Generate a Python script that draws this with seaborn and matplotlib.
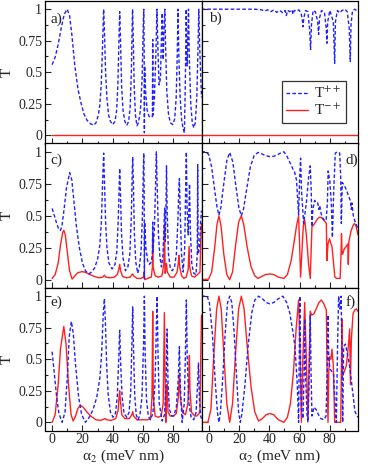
import numpy as np
import matplotlib
matplotlib.use('Agg')
import matplotlib.pyplot as plt
from matplotlib.ticker import MultipleLocator
import seaborn as sns

# T++ (blue dashed) and T-+ (red solid) vs alpha_2
a_pp = [(0, .56), (2, .62), (4, .72), (6, .85), (8, .96), (9.9, 1.0), (11.5, .95), (13, .8), (15, .55),
        (17, .37), (19, .26), (21, .17), (23, .12), (25.5, .09), (27.5, .08), (29, .1), (30.5, .16),
        (31.5, .24), (32.5, .42), (33.3, .72), (34, 1.0), (34.6, .8), (35.3, .5), (36.2, .29), (37.3, .16),
        (38.5, .11), (40, .085), (41.5, .11), (42.6, .2), (43.4, .4), (44, .7), (44.6, .98), (45.2, .72),
        (45.9, .38), (46.8, .2), (48, .11), (49.3, .08), (50.5, .11), (51.5, .22), (52.3, .5), (52.8, .85),
        (53.1, 1.0), (53.5, .8), (54.2, .38), (55, .16), (56, .075), (57, .1), (58.3, .2), (59.4, .45),
        (60.1, .85), (60.5, 1.0), (60.75, .7), (60.9, .02), (61.1, .55), (61.7, .35), (62.7, .2), (64, .15),
        (65.5, .14), (66.2, .15), (66.4, .76), (66.6, .16), (67.5, .3), (68.5, .65), (69.2, 1.0), (69.8, .7),
        (70.6, .4), (71.5, .45), (72.3, .85), (72.7, .97), (73.3, .6), (73.9, .85), (74.4, 1.0), (74.9, .7),
        (75.7, .35), (76.8, .17), (78, .1), (79.6, .085), (80.9, .13), (81.9, .3), (82.6, .65), (83.1, 1.0),
        (83.6, .65), (84.5, .3), (85.5, .12), (86.5, .05), (87.3, .02), (87.9, .4), (88.5, 1.0), (89.1, .55),
        (89.5, .7), (90, 1.0), (90.6, .6), (91.5, .25), (92.5, .1), (93.5, .06), (94.5, .1), (95.5, .3),
        (96.3, .7), (96.8, 1.0), (97.4, .7), (98.6, .3)]
a_mp = [(0, 0), (50, 0), (98.6, 0)]

b_pp = [(-4.7, 1.0), (10, 1.0), (30, 1.0), (35, .995), (37, .985), (39, .995), (41, .98), (43, .995),
        (45, .975), (47, .99), (49, .97), (50.5, .99), (51.3, .95), (52.2, .99), (53.5, .98), (55, .995),
        (55.7, .96), (56.5, .99), (58, .985), (59.5, .995), (61, .97), (61.8, .92), (62.3, .86), (62.8, .93),
        (64, .99), (65.5, .98), (66.6, .85), (67.3, .68), (67.9, .88), (69, .99), (70.5, .98), (72, .9),
        (72.6, .8), (73.2, .93), (74.5, .99), (76.5, .97), (77.6, .85), (78.1, .73), (78.6, .9), (80, .99),
        (82.3, .9), (83.2, .57), (83.7, .9), (85, .99), (86.5, .97), (88, .99), (90, 1.0), (91.5, .98),
        (92.8, .85), (93.5, .585), (94, .88), (95, .99), (96.5, 1.0), (98.6, .98)]
b_mp = [(-4.7, 0), (50, 0), (98.6, 0)]

c_pp = [(0, .557), (1.5, .5), (3, .44), (4.5, .39), (5.5, .386), (6.5, .42), (8, .56), (9.5, .72),
        (11.6, .837), (13, .78), (14.5, .6), (16, .42), (18, .25), (20, .13), (22, .07), (24.2, .045),
        (26, .06), (28, .09), (30, .16), (31.5, .27), (32.5, .45), (33.3, .75), (34, .99), (34.6, .75),
        (35.3, .45), (36.2, .25), (37.5, .13), (39.6, .084), (41.5, .12), (42.7, .22), (43.6, .45),
        (44.2, .7), (44.6, .87), (45.1, .68), (45.8, .36), (46.8, .17), (48.4, .07), (50, .1), (51.3, .2),
        (52.3, .5), (52.9, .85), (53.2, .96), (53.6, .78), (54.3, .36), (55.2, .14), (56.5, .05), (57.6, .1),
        (58.7, .22), (59.6, .5), (60.2, .85), (60.5, .99), (60.75, .7), (60.9, .01), (61.1, .45), (61.9, .25),
        (63, .15), (64.3, .12), (65.5, .14), (66.2, .2), (66.4, .45), (66.6, .22), (67.5, .4), (68.3, .75),
        (68.8, 1.0), (69.3, .75), (70.2, .35), (71.2, .17), (72.2, .1), (73.2, .2), (73.9, .45), (74.3, .56),
        (74.7, .3), (75.2, .6), (75.5, .89), (75.9, .55), (76.8, .2), (78, .09), (79.3, .07), (80.8, .1),
        (82, .2), (83, .45), (83.6, .7), (84, .79), (84.5, .55), (85.4, .2), (86.5, .06), (87.5, .25),
        (88.2, .75), (88.6, 1.0), (89, .6), (89.8, .35), (90.4, .6), (90.7, .75), (91.2, .4), (92.2, .12),
        (93.5, .05), (95, .04), (95.8, .2), (96.1, .9), (96.4, .2), (97.3, .25), (98, .45), (98.6, .54)]
c_mp = [(0, .01), (2, .04), (4, .13), (5.5, .27), (7, .37), (7.7, .386), (8.7, .35), (10, .22), (11.5, .07),
        (13.2, .005), (15, .03), (17, .055), (19.8, .063), (22, .058), (25, .04), (28, .025), (31, .015),
        (33.5, .02), (34.5, .035), (35.5, .02), (38, .015), (41, .02), (43, .04), (44, .08), (44.6, .12),
        (45.2, .07), (46.5, .025), (49, .015), (51.5, .02), (52.7, .04), (53.2, .045), (53.8, .03), (56, .01),
        (58.5, .01), (60.3, .02), (60.7, .06), (61.1, 0), (63, .01), (65.5, .02), (66.2, .1), (66.4, .36),
        (66.6, .1), (68, .03), (70, .02), (72.5, .03), (73.7, .12), (74.2, .43), (74.6, .05), (75.2, .1),
        (75.5, .126), (76, .06), (78, .02), (80.5, .02), (82.5, .06), (83.3, .13), (83.7, .19), (84.2, .1),
        (85.5, .03), (87, .01), (88.5, .02), (89.8, .08), (90.4, .26), (90.8, .1), (92, .03), (94, .02),
        (96, .04), (97.6, .06), (98.1, .3), (98.6, .44)]

d_pp = [(-4.7, 1.0), (-2, 1.0), (0, .98), (2, .88), (4, .7), (5.5, .57), (6.8, .504), (8, .56), (10, .75),
        (12, .93), (13.9, .995), (16, .92), (18, .73), (20, .56), (21.6, .5), (23, .55), (25, .7), (27.5, .88),
        (30, .97), (32.6, .995), (35, .985), (37.5, .97), (40.3, .963), (43, .965), (46, .98), (48, .995),
        (49.7, 1.0), (51.5, .97), (53.5, .92), (55.5, .87), (56.8, .84), (58, .78), (59.4, .506), (60.1, .8),
        (60.7, .95), (61.3, .7), (62.7, .44), (64.5, .6), (66, .8), (67.1, .89), (67.7, .7), (68.2, .415),
        (68.8, .55), (70, .62), (71, .6), (72, .6), (72.8, .55), (73.3, .58), (74.4, .51), (75.5, .48),
        (76.6, .46), (77.6, .47), (78.4, .6), (78.9, .85), (80, .77), (81, .6), (81.7, .33), (82.6, .7),
        (83.6, .99), (85, 1.0), (86.5, .99), (87.2, .8), (87.6, .44), (88.2, .76), (89.5, .74), (91, .7),
        (92.5, .65), (93.5, .62), (94.2, .55), (94.6, .6), (95.5, .5), (96.5, .46), (97.5, .43), (98.6, .4)]
d_mp = [(-4.7, 0), (0, .005), (2, .06), (4, .25), (5.5, .43), (6.8, .5), (8.2, .42), (10, .2), (12, .04),
        (13.9, 0), (15.8, .06), (17.8, .27), (19.8, .45), (21.6, .5), (23.2, .43), (25.5, .25), (28, .1),
        (30.5, .03), (32.6, .01), (35, .025), (37.5, .04), (40.3, .045), (43, .04), (46, .02), (49.7, .01),
        (52, .04), (54.5, .15), (56.5, .3), (58, .42), (59.4, .5), (60, .3), (60.7, .02), (61.5, .2),
        (62.5, .42), (63.4, .47), (64.5, .35), (66, .12), (67.1, .01), (67.6, .2), (68.2, .415), (69.5, .43),
        (71, .46), (72.3, .48), (73.5, .49), (75, .48), (76.5, .46), (77.7, .44), (78.1, .15), (78.8, .28),
        (79.8, .32), (80.8, .28), (81.4, .26), (82.3, .15), (83.3, .02), (84.5, .01), (86.8, .01), (87.4, .2),
        (87.7, .36), (88.1, .2), (88.5, .2), (89.5, .24), (90.8, .26), (91.9, .28), (92.2, .12), (92.6, .3),
        (94, .38), (95.2, .42), (96.2, .44), (97.3, .42), (98.6, .35)]

e_pp = [(0, .56), (1.5, .38), (3, .2), (4.5, .07), (6.6, 0), (8.5, .08), (10, .35), (11.3, .68), (12.7, .8),
        (14, .7), (15.5, .45), (17.5, .2), (19.5, .06), (22, 0), (24.5, .04), (27, .1), (29.5, .2), (31.5, .35),
        (32.7, .55), (33.7, .85), (34.5, .98), (35.2, .78), (36, .45), (37, .22), (38.5, .08), (40.2, .04),
        (41.8, .07), (43, .2), (43.9, .48), (44.6, .73), (45.3, .45), (46.2, .2), (47.5, .07), (49.3, .04),
        (50.8, .08), (51.9, .25), (52.7, .65), (53.2, .915), (53.7, .6), (54.5, .22), (55.5, .06), (56.7, .02),
        (58, .06), (59.3, .2), (60.3, .6), (60.9, 1.0), (61.4, .55), (62.3, .18), (63.5, .05), (64.9, .02),
        (66.5, .07), (67.9, .3), (68.8, .75), (69.3, 1.0), (69.8, .6), (70.7, .15), (72.6, .01), (74.2, .06),
        (75.2, .3), (75.9, .74), (76.5, .3), (77.5, .1), (79, .05), (80.3, .05), (82, .12), (83.3, .35),
        (84, .6), (84.6, .3), (85.8, 0), (87.2, .15), (88, .55), (88.6, .97), (89.2, .5), (90.3, .15),
        (91.8, .04), (93.5, .02), (95, .08), (96, .3), (96.6, .47), (97.2, .2), (98, .05), (98.6, .03)]
e_mp = [(0, 0), (2, .06), (4, .3), (5.5, .58), (7.7, .76), (9.2, .62), (10.8, .3), (12.5, .06), (13.9, .01),
        (15.5, .05), (17, .11), (18.7, .135), (20.5, .12), (23, .08), (26, .045), (29, .02), (32, .015),
        (34, .025), (34.9, .03), (36, .02), (39, .015), (42, .03), (43.6, .1), (44.3, .22), (44.6, .25),
        (45, .18), (46, .06), (48, .03), (51, .03), (52.6, .06), (53.2, .085), (53.8, .05), (56, .02), (59, .02),
        (61, .02), (63, .02), (65, .03), (65.9, .2), (66.4, .88), (66.8, .2), (68, .05), (70, .04), (72, .05),
        (73.3, .15), (74.1, .87), (74.6, .3), (75.1, 0), (75.6, .25), (75.9, .3), (76.5, .08), (78, .05),
        (80, .05), (82, .07), (83.3, .2), (84, .39), (84.6, .2), (86, .08), (88, .06), (89.6, .15), (90.3, .35),
        (90.6, .53), (91, .25), (92, .08), (94, .05), (95.5, .05), (97, .07), (97.6, .1), (98.2, .6), (98.6, .85)]

f_pp = [(-4.7, 1.0), (-1, 1.0), (.5, .95), (2.5, .7), (4.5, .3), (5.8, .08), (6.8, 0), (7.8, .08), (9.3, .35),
        (11, .72), (12.5, .95), (13.9, 1.0), (15.3, .95), (16.8, .72), (18.5, .35), (19.8, .08), (20.9, 0),
        (22, .07), (24, .3), (26, .6), (28.5, .87), (30.5, .97), (33, 1.0), (35.5, .98), (38, .95), (40.3, .94),
        (43, .95), (46, .98), (49, 1.0), (51.5, .95), (53.5, .87), (55.6, .72), (57, .6), (58.5, .3), (59.4, 0),
        (59.8, .5), (60.2, 1.0), (60.7, .5), (61.3, .1), (62.3, .03), (63, .4), (63.4, .82), (63.9, .4),
        (65, .05), (65.6, 0), (66.4, .4), (67.1, .85), (67.6, .4), (68.2, .05), (69.5, .12), (71, .1),
        (72.5, .06), (74, .03), (76, .02), (77.5, .05), (78.3, .4), (78.8, .85), (79.3, .5), (80.2, .42),
        (81.5, .4), (82.5, .38), (83.5, .15), (84.3, 0), (85.1, .6), (85.8, 1.0), (86.7, .9), (87.5, 1.0),
        (88.2, .3), (88.5, 0), (89.1, .6), (90.3, .62), (91.5, .55), (93, .45), (94.5, .3), (95.5, .2),
        (96.5, .09), (97.5, .06), (98.6, .04)]
f_mp = [(-4.7, 0), (-.5, 0), (1.5, .1), (3.5, .55), (5.3, .9), (6.8, 1.0), (8.3, .9), (10, .55), (12, .15),
        (13.9, 0), (15.8, .15), (17.8, .55), (19.8, .9), (21.6, 1.0), (23.4, .9), (25.5, .6), (28, .28),
        (30.5, .08), (33, .01), (35.5, .03), (38, .06), (40.3, .07), (43, .06), (46, .02), (49.7, 0), (52, .04),
        (54, .15), (56, .4), (57.8, .75), (59.4, .97), (60.3, .6), (61.2, 0), (62.2, .5), (63.4, .95), (64.5, .5),
        (65.6, .02), (66.4, .5), (67.1, .88), (68, .85), (69.5, .86), (71, .9), (72.8, .95), (74.4, .97),
        (76, .94), (77.7, .89), (78.2, .4), (78.8, 0), (79.3, .4), (79.9, .52), (80.7, .5), (81.4, .58),
        (82.3, .45), (83.2, 0), (85, 0), (87.2, 0), (87.7, .5), (88, .82), (88.4, .37), (89.5, .4), (90.9, .45),
        (92.2, .6), (93.1, .74), (93.6, .3), (94.2, .65), (95.3, .86), (96.4, .89), (97.5, .9), (98.6, .88)]

panel_labels = ['a)', 'b)', 'c)', 'd)', 'e)', 'f)']
xticks = [0, 20, 40, 60, 80]
yticks = [0, 0.25, 0.5, 0.75, 1]
ytick_labels = ['0', '0.25', '0.5', '0.75', '1']

sns.set_style('ticks')
plt.rcParams['font.family'] = ['Liberation Serif', 'DejaVu Serif']
plt.rcParams['mathtext.fontset'] = 'stix'
plt.rcParams['font.size'] = 10

BLUE = '#2020ff'
RED = '#ff2020'

fig = plt.figure(figsize=(3.74, 4.66), dpi=100)
lefts = [45 / 374, 201.5 / 374]
bottoms = [1 - 143.5 / 466, 1 - 288 / 466, 1 - 430.5 / 466]
heights = [142.5 / 466, 144.5 / 466, 142.5 / 466]
w = 156.5 / 374

data = [(a_pp, a_mp), (b_pp, b_mp), (c_pp, c_mp), (d_pp, d_mp), (e_pp, e_mp), (f_pp, f_mp)]
lab_pos = [(0.035, 0.87), (0.045, 0.88), (0.035, 0.885), (0.92, 0.885), (0.035, 0.9), (0.92, 0.9)]

for i, (pp, mp) in enumerate(data):
    row, col = divmod(i, 2)
    ax = fig.add_axes([lefts[col], bottoms[row], w, heights[row]])
    xp, yp = np.array(pp).T
    xm, ym = np.array(mp).T
    sns.lineplot(x=xm, y=ym, ax=ax, color=RED, lw=1.0, label='T$^{-+}$', legend=False, sort=False)
    sns.lineplot(x=xp, y=yp, ax=ax, color=BLUE, lw=1.0, linestyle=(0, (2.6, 1.6)),
                 label='T$^{++}$', legend=False, sort=False)
    ax.set_xlim(-4.7, 98.6)
    ax.set_ylim(-0.065, 1.065)
    ax.set_xticks(xticks)
    ax.set_yticks(yticks)
    ax.xaxis.set_minor_locator(MultipleLocator(10))
    ax.yaxis.set_minor_locator(MultipleLocator(0.125))
    ax.tick_params(which='both', direction='in', top=False, right=False, width=0.8, labelsize=10)
    ax.tick_params(which='major', length=4.5, pad=2)
    ax.tick_params(which='minor', length=2.5)
    for s in ax.spines.values():
        s.set_linewidth(0.9)
        s.set_color('black')
    if col == 0:
        ax.set_yticklabels(ytick_labels)
        ax.set_ylabel('T', fontsize=11, labelpad=3)
    else:
        ax.set_yticklabels([])
        ax.set_ylabel('')
    if row == 2:
        ax.set_xticklabels([str(t) for t in xticks])
        ax.set_xlabel('α$_2$ (meV nm)', fontsize=11, labelpad=1)
    else:
        ax.set_xticklabels([])
        ax.set_xlabel('')
    ax.text(*lab_pos[i], panel_labels[i], transform=ax.transAxes, fontsize=11, va='center', ha='left')
    if i == 1:
        h, l = ax.get_legend_handles_labels()
        leg = ax.legend(h[::-1], l[::-1], loc='lower right', bbox_to_anchor=(0.97, 0.09),
                        fontsize=11, frameon=True, fancybox=False, handlelength=1.4,
                        handletextpad=0.4, labelspacing=0.15, borderpad=0.3)
        leg.get_frame().set_edgecolor('black')
        leg.get_frame().set_linewidth(0.9)

fig.savefig('out.png', dpi=100)
